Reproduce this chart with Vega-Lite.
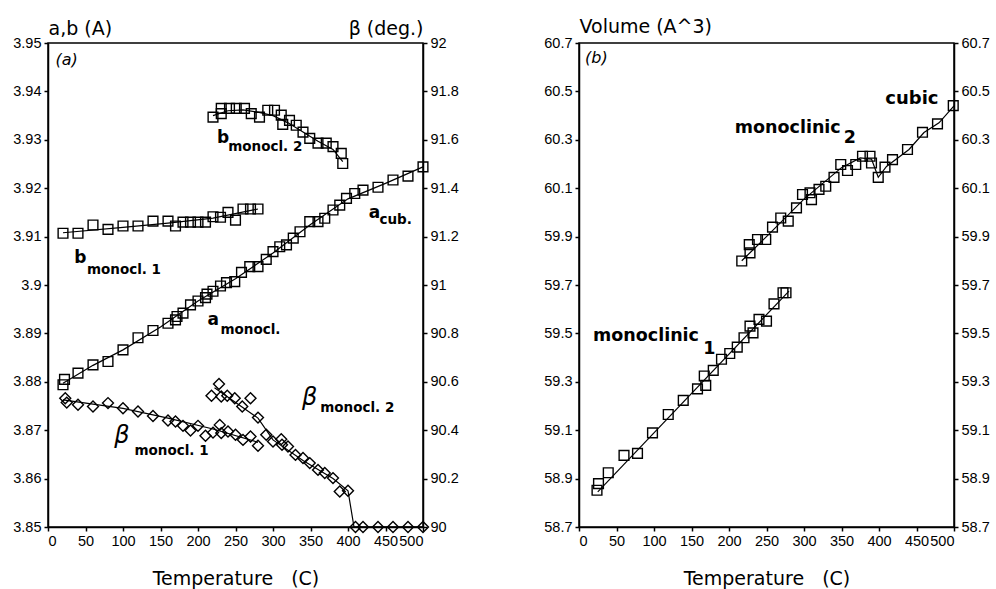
{
  "$schema": "https://vega.github.io/schema/vega-lite/v6.json",
  "background": "white",
  "padding": {"left": 12, "top": 16, "right": 5, "bottom": 5},
  "bounds": "flush",
  "spacing": 156,
  "config": {
    "font": "DejaVu Sans",
    "view": {"stroke": "black", "strokeWidth": 1.5},
    "axis": {
      "grid": false,
      "labelFont": "Liberation Sans",
      "labelFontSize": 14.5,
      "labelColor": "black",
      "tickColor": "black",
      "tickSize": 4,
      "tickWidth": 1.5,
      "labelPadding": 3,
      "domainColor": "black",
      "domainWidth": 1.5,
      "titleFont": "DejaVu Sans",
      "titleFontSize": 19,
      "titleFontWeight": "normal",
      "titleColor": "black"
    }
  },
  "datasets": {
    "sqA": [
      {"s": "b1", "T": 20, "v": 3.9107}, {"s": "b1", "T": 40, "v": 3.9107}, {"s": "b1", "T": 60, "v": 3.9124}, {"s": "b1", "T": 80, "v": 3.9115},
      {"s": "b1", "T": 100, "v": 3.9122}, {"s": "b1", "T": 120, "v": 3.9122}, {"s": "b1", "T": 140, "v": 3.9132}, {"s": "b1", "T": 160, "v": 3.9132},
      {"s": "b1", "T": 170, "v": 3.9122}, {"s": "b1", "T": 180, "v": 3.913}, {"s": "b1", "T": 190, "v": 3.913}, {"s": "b1", "T": 200, "v": 3.913},
      {"s": "b1", "T": 210, "v": 3.913}, {"s": "b1", "T": 220, "v": 3.9141}, {"s": "b1", "T": 230, "v": 3.914}, {"s": "b1", "T": 240, "v": 3.915},
      {"s": "b1", "T": 250, "v": 3.9134}, {"s": "b1", "T": 260, "v": 3.9157}, {"s": "b1", "T": 270, "v": 3.9157}, {"s": "b1", "T": 280, "v": 3.9157},
      {"s": "b2", "T": 220, "v": 3.9347}, {"s": "b2", "T": 231, "v": 3.9354}, {"s": "b2", "T": 231, "v": 3.9365}, {"s": "b2", "T": 242, "v": 3.9365},
      {"s": "b2", "T": 251, "v": 3.9365}, {"s": "b2", "T": 262, "v": 3.9365}, {"s": "b2", "T": 271, "v": 3.9354}, {"s": "b2", "T": 282, "v": 3.9347},
      {"s": "b2", "T": 293, "v": 3.9361}, {"s": "b2", "T": 302, "v": 3.9361}, {"s": "b2", "T": 311, "v": 3.9351}, {"s": "b2", "T": 313, "v": 3.9332},
      {"s": "b2", "T": 322, "v": 3.934}, {"s": "b2", "T": 331, "v": 3.933}, {"s": "b2", "T": 340, "v": 3.9316}, {"s": "b2", "T": 349, "v": 3.9303},
      {"s": "b2", "T": 360, "v": 3.9293}, {"s": "b2", "T": 371, "v": 3.9293}, {"s": "b2", "T": 380, "v": 3.9286}, {"s": "b2", "T": 391, "v": 3.9272},
      {"s": "b2", "T": 393, "v": 3.9251},
      {"s": "a", "T": 20, "v": 3.8794}, {"s": "a", "T": 22, "v": 3.8805}, {"s": "a", "T": 40, "v": 3.8818}, {"s": "a", "T": 60, "v": 3.8835},
      {"s": "a", "T": 80, "v": 3.8842}, {"s": "a", "T": 100, "v": 3.8866}, {"s": "a", "T": 120, "v": 3.8891}, {"s": "a", "T": 140, "v": 3.8906},
      {"s": "a", "T": 160, "v": 3.8921}, {"s": "a", "T": 170, "v": 3.8928}, {"s": "a", "T": 172, "v": 3.8935}, {"s": "a", "T": 180, "v": 3.8942},
      {"s": "a", "T": 190, "v": 3.8959}, {"s": "a", "T": 200, "v": 3.8967}, {"s": "a", "T": 210, "v": 3.8974}, {"s": "a", "T": 212, "v": 3.8981},
      {"s": "a", "T": 220, "v": 3.8987}, {"s": "a", "T": 230, "v": 3.8998}, {"s": "a", "T": 238, "v": 3.9005}, {"s": "a", "T": 249, "v": 3.9007},
      {"s": "a", "T": 258, "v": 3.9026}, {"s": "a", "T": 269, "v": 3.9038}, {"s": "a", "T": 280, "v": 3.9038}, {"s": "a", "T": 291, "v": 3.9053},
      {"s": "a", "T": 300, "v": 3.9069}, {"s": "a", "T": 309, "v": 3.9079}, {"s": "a", "T": 318, "v": 3.9083}, {"s": "a", "T": 327, "v": 3.9097},
      {"s": "a", "T": 336, "v": 3.911}, {"s": "a", "T": 349, "v": 3.9131}, {"s": "a", "T": 360, "v": 3.9131}, {"s": "a", "T": 369, "v": 3.9138},
      {"s": "a", "T": 380, "v": 3.9155}, {"s": "a", "T": 389, "v": 3.9165}, {"s": "a", "T": 398, "v": 3.9179}, {"s": "a", "T": 409, "v": 3.9189},
      {"s": "a", "T": 420, "v": 3.9196}, {"s": "a", "T": 440, "v": 3.9202}, {"s": "a", "T": 460, "v": 3.9217}, {"s": "a", "T": 480, "v": 3.9225},
      {"s": "a", "T": 500, "v": 3.9244}
    ],
    "linesA": [
      {"s": "a", "T": 20, "v": 3.8797}, {"s": "a", "T": 60, "v": 3.8834}, {"s": "a", "T": 100, "v": 3.8866}, {"s": "a", "T": 150, "v": 3.8913},
      {"s": "a", "T": 200, "v": 3.8967}, {"s": "a", "T": 250, "v": 3.9013}, {"s": "a", "T": 300, "v": 3.9066}, {"s": "a", "T": 350, "v": 3.9125},
      {"s": "a", "T": 400, "v": 3.9178}, {"s": "a", "T": 450, "v": 3.921}, {"s": "a", "T": 500, "v": 3.9244},
      {"s": "b1", "T": 20, "v": 3.9108}, {"s": "b1", "T": 100, "v": 3.9119}, {"s": "b1", "T": 160, "v": 3.9128}, {"s": "b1", "T": 220, "v": 3.9138}, {"s": "b1", "T": 280, "v": 3.9157},
      {"s": "b2", "T": 220, "v": 3.935}, {"s": "b2", "T": 240, "v": 3.936}, {"s": "b2", "T": 260, "v": 3.9362}, {"s": "b2", "T": 280, "v": 3.9357},
      {"s": "b2", "T": 300, "v": 3.935}, {"s": "b2", "T": 320, "v": 3.9335}, {"s": "b2", "T": 340, "v": 3.9316}, {"s": "b2", "T": 360, "v": 3.9297},
      {"s": "b2", "T": 380, "v": 3.928}, {"s": "b2", "T": 393, "v": 3.9255}
    ],
    "dia": [
      {"T": 23, "beta": 90.532}, {"T": 25, "beta": 90.514}, {"T": 40, "beta": 90.505}, {"T": 60, "beta": 90.498}, {"T": 80, "beta": 90.512},
      {"T": 100, "beta": 90.491}, {"T": 120, "beta": 90.477}, {"T": 140, "beta": 90.459}, {"T": 160, "beta": 90.44}, {"T": 170, "beta": 90.436},
      {"T": 180, "beta": 90.418}, {"T": 190, "beta": 90.399}, {"T": 200, "beta": 90.418}, {"T": 210, "beta": 90.377}, {"T": 220, "beta": 90.39},
      {"T": 229, "beta": 90.422}, {"T": 231, "beta": 90.388}, {"T": 240, "beta": 90.395}, {"T": 250, "beta": 90.381}, {"T": 260, "beta": 90.36},
      {"T": 270, "beta": 90.374}, {"T": 280, "beta": 90.336},
      {"T": 218, "beta": 90.542}, {"T": 228, "beta": 90.591}, {"T": 231, "beta": 90.539}, {"T": 239, "beta": 90.542}, {"T": 249, "beta": 90.532},
      {"T": 259, "beta": 90.498}, {"T": 270, "beta": 90.532}, {"T": 280, "beta": 90.452}, {"T": 291, "beta": 90.381}, {"T": 300, "beta": 90.353},
      {"T": 311, "beta": 90.363}, {"T": 312, "beta": 90.34}, {"T": 320, "beta": 90.333}, {"T": 330, "beta": 90.298}, {"T": 340, "beta": 90.285},
      {"T": 349, "beta": 90.264}, {"T": 360, "beta": 90.236}, {"T": 369, "beta": 90.223}, {"T": 380, "beta": 90.202}, {"T": 389, "beta": 90.147},
      {"T": 400, "beta": 90.15}, {"T": 410, "beta": 90}, {"T": 420, "beta": 90}, {"T": 440, "beta": 90}, {"T": 460, "beta": 90},
      {"T": 480, "beta": 90}, {"T": 500, "beta": 90}
    ],
    "linesB": [
      {"s": "b1", "T": 20, "beta": 90.525}, {"s": "b1", "T": 100, "beta": 90.49}, {"s": "b1", "T": 160, "beta": 90.45}, {"s": "b1", "T": 220, "beta": 90.405}, {"s": "b1", "T": 280, "beta": 90.35},
      {"s": "b2", "T": 222, "beta": 90.575}, {"s": "b2", "T": 280, "beta": 90.45}, {"s": "b2", "T": 300, "beta": 90.36}, {"s": "b2", "T": 340, "beta": 90.275},
      {"s": "b2", "T": 380, "beta": 90.2}, {"s": "b2", "T": 400, "beta": 90.15}, {"s": "b2", "T": 408, "beta": 90}, {"s": "b2", "T": 500, "beta": 90}
    ],
    "labA": [
      {"k": "panel", "T": 10, "v": 3.9465, "t": "(a)"},
      {"k": "main", "T": 233.6, "v": 3.9303, "t": "b"},
      {"k": "main", "T": 43, "v": 3.9055, "t": "b"},
      {"k": "main", "T": 435.2, "v": 3.9148, "t": "a"},
      {"k": "main", "T": 220.3, "v": 3.8928, "t": "a"},
      {"k": "sub", "T": 240.3, "v": 3.9286, "t": "monocl. 2"},
      {"k": "sub", "T": 51.9, "v": 3.9031, "t": "monocl. 1"},
      {"k": "sub", "T": 441.9, "v": 3.9134, "t": "cub."},
      {"k": "sub", "T": 230, "v": 3.8908, "t": "monocl."},
      {"k": "sub", "T": 115.3, "v": 3.8657, "t": "monocl. 1"},
      {"k": "sub", "T": 363, "v": 3.8746, "t": "monocl. 2"},
      {"k": "beta", "T": 98.4, "v": 3.8688, "t": "β"},
      {"k": "beta", "T": 348.8, "v": 3.8767, "t": "β"}
    ],
    "vol": [
      {"T": 24, "V": 58.852}, {"T": 26, "V": 58.879}, {"T": 39, "V": 58.924}, {"T": 60, "V": 58.996}, {"T": 78, "V": 59.004},
      {"T": 98, "V": 59.089}, {"T": 119, "V": 59.165}, {"T": 139, "V": 59.223}, {"T": 158, "V": 59.271}, {"T": 167, "V": 59.324},
      {"T": 169, "V": 59.285}, {"T": 179, "V": 59.347}, {"T": 190, "V": 59.393}, {"T": 201, "V": 59.417}, {"T": 211, "V": 59.443},
      {"T": 220, "V": 59.482}, {"T": 228, "V": 59.53}, {"T": 232, "V": 59.502}, {"T": 240, "V": 59.558}, {"T": 250, "V": 59.551},
      {"T": 260, "V": 59.622}, {"T": 272, "V": 59.668}, {"T": 276, "V": 59.668},
      {"T": 217, "V": 59.799}, {"T": 228, "V": 59.833}, {"T": 227, "V": 59.867}, {"T": 238, "V": 59.888}, {"T": 249, "V": 59.888},
      {"T": 258, "V": 59.939}, {"T": 269, "V": 59.977}, {"T": 279, "V": 59.964}, {"T": 290, "V": 60.019}, {"T": 298, "V": 60.074},
      {"T": 308, "V": 60.081}, {"T": 310, "V": 60.053}, {"T": 320, "V": 60.095}, {"T": 329, "V": 60.108}, {"T": 340, "V": 60.145},
      {"T": 349, "V": 60.198}, {"T": 358, "V": 60.173}, {"T": 369, "V": 60.198}, {"T": 378, "V": 60.232}, {"T": 388, "V": 60.232},
      {"T": 390, "V": 60.204}, {"T": 399, "V": 60.145}, {"T": 408, "V": 60.187}, {"T": 418, "V": 60.218}, {"T": 438, "V": 60.26},
      {"T": 458, "V": 60.331}, {"T": 478, "V": 60.366}, {"T": 499, "V": 60.441}
    ],
    "volLines": [
      {"s": "m1", "T": 25, "V": 58.845}, {"s": "m1", "T": 280, "V": 59.675},
      {"s": "m2", "T": 217, "V": 59.8}, {"s": "m2", "T": 250, "V": 59.9}, {"s": "m2", "T": 300, "V": 60.055}, {"s": "m2", "T": 350, "V": 60.185},
      {"s": "m2", "T": 375, "V": 60.225}, {"s": "m2", "T": 390, "V": 60.22}, {"s": "m2", "T": 399, "V": 60.145}, {"s": "m2", "T": 410, "V": 60.19},
      {"s": "m2", "T": 440, "V": 60.26}, {"s": "m2", "T": 460, "V": 60.33}, {"s": "m2", "T": 480, "V": 60.37}, {"s": "m2", "T": 500, "V": 60.44}
    ],
    "labB": [
      {"k": "panel", "T": 8, "V": 60.64, "t": "(b)"},
      {"k": "big", "T": 207.7, "V": 60.348, "t": "monoclinic"},
      {"k": "big", "T": 18.7, "V": 59.489, "t": "monoclinic"},
      {"k": "big", "T": 352.9, "V": 60.306, "t": "2"},
      {"k": "big", "T": 165.8, "V": 59.435, "t": "1"},
      {"k": "bigc", "T": 443.9, "V": 60.4675, "t": "cubic"}
    ]
  },
  "hconcat": [
    {
      "width": 375,
      "height": 484,
      "layer": [
        {
          "encoding": {
            "x": {"field": "T", "type": "quantitative", "scale": {"domain": [0, 500], "nice": false, "zero": false},
              "axis": {"values": [0, 50, 100, 150, 200, 250, 300, 350, 400, 450, 500], "title": "Temperature\u00a0\u00a0\u00a0(C)", "titleY": 51, "titleBaseline": "middle"}},
            "y": {"field": "v", "type": "quantitative", "scale": {"domain": [3.85, 3.95], "nice": false, "zero": false},
              "axis": {"orient": "left", "values": [3.85, 3.86, 3.87, 3.88, 3.89, 3.9, 3.91, 3.92, 3.93, 3.94, 3.95], "format": ".2~f",
                "title": "a,b (A)", "titleAngle": 0, "titleX": 0, "titleY": -15, "titleAlign": "left", "titleBaseline": "middle"}}
          },
          "layer": [
            {"data": {"name": "linesA"}, "mark": {"type": "line", "color": "black", "strokeWidth": 1.2}, "encoding": {"detail": {"field": "s"}}},
            {"data": {"name": "sqA"}, "mark": {"type": "point", "shape": "square", "filled": false, "color": "black", "size": 95, "strokeWidth": 1.4, "opacity": 1}},
            {"data": {"name": "labA"}, "transform": [{"filter": "datum.k == 'panel'"}],
              "mark": {"type": "text", "fontStyle": "italic", "fontSize": 16, "align": "left", "baseline": "middle", "color": "black"},
              "encoding": {"text": {"field": "t"}}},
            {"data": {"name": "labA"}, "transform": [{"filter": "datum.k == 'main'"}],
              "mark": {"type": "text", "fontWeight": "bold", "fontSize": 17, "align": "center", "baseline": "middle", "color": "black"},
              "encoding": {"text": {"field": "t"}}},
            {"data": {"name": "labA"}, "transform": [{"filter": "datum.k == 'sub'"}],
              "mark": {"type": "text", "fontWeight": "bold", "fontSize": 13.5, "align": "left", "baseline": "middle", "color": "black"},
              "encoding": {"text": {"field": "t"}}},
            {"data": {"name": "labA"}, "transform": [{"filter": "datum.k == 'beta'"}],
              "mark": {"type": "text", "fontStyle": "italic", "fontSize": 24, "align": "center", "baseline": "middle", "color": "black"},
              "encoding": {"text": {"field": "t"}}}
          ]
        },
        {
          "encoding": {
            "x": {"field": "T", "type": "quantitative", "scale": {"domain": [0, 500], "nice": false, "zero": false},
              "axis": {"values": [0, 50, 100, 150, 200, 250, 300, 350, 400, 450, 500], "title": "Temperature\u00a0\u00a0\u00a0(C)", "titleY": 51, "titleBaseline": "middle"}},
            "y": {"field": "beta", "type": "quantitative", "scale": {"domain": [90, 92], "nice": false, "zero": false},
              "axis": {"orient": "right", "values": [90, 90.2, 90.4, 90.6, 90.8, 91, 91.2, 91.4, 91.6, 91.8, 92], "format": ".1~f",
                "title": "β (deg.)", "titleAngle": 0, "titleX": 0, "titleY": -15, "titleAlign": "right", "titleBaseline": "middle"}}
          },
          "layer": [
            {"data": {"name": "linesB"}, "mark": {"type": "line", "color": "black", "strokeWidth": 1.2}, "encoding": {"detail": {"field": "s"}}},
            {"data": {"name": "dia"}, "mark": {"type": "point", "shape": "diamond", "filled": false, "color": "black", "size": 120, "strokeWidth": 1.4, "opacity": 1}}
          ]
        }
      ],
      "resolve": {"scale": {"y": "independent"}}
    },
    {
      "width": 375,
      "height": 484,
      "layer": [
        {
          "encoding": {
            "x": {"field": "T", "type": "quantitative", "scale": {"domain": [0, 500], "nice": false, "zero": false},
              "axis": {"values": [0, 50, 100, 150, 200, 250, 300, 350, 400, 450, 500], "title": "Temperature\u00a0\u00a0\u00a0(C)", "titleY": 51, "titleBaseline": "middle"}},
            "y": {"field": "V", "type": "quantitative", "scale": {"domain": [58.7, 60.7], "nice": false, "zero": false},
              "axis": {"orient": "left", "values": [58.7, 58.9, 59.1, 59.3, 59.5, 59.7, 59.9, 60.1, 60.3, 60.5, 60.7], "format": ".1f",
                "title": "Volume (A^3)", "titleAngle": 0, "titleX": 0, "titleY": -17, "titleAlign": "left", "titleBaseline": "middle"}}
          },
          "layer": [
            {"data": {"name": "vol"}, "mark": {"type": "point", "shape": "square", "filled": false, "color": "black", "size": 95, "strokeWidth": 1.4, "opacity": 1}},
            {"data": {"name": "labB"}, "transform": [{"filter": "datum.k == 'panel'"}],
              "mark": {"type": "text", "fontStyle": "italic", "fontSize": 16, "align": "left", "baseline": "middle", "color": "black"},
              "encoding": {"text": {"field": "t"}}},
            {"data": {"name": "labB"}, "transform": [{"filter": "datum.k == 'big'"}],
              "mark": {"type": "text", "fontWeight": "bold", "fontSize": 17.5, "align": "left", "baseline": "middle", "color": "black"},
              "encoding": {"text": {"field": "t"}}},
            {"data": {"name": "labB"}, "transform": [{"filter": "datum.k == 'bigc'"}],
              "mark": {"type": "text", "fontWeight": "bold", "fontSize": 18, "align": "center", "baseline": "middle", "color": "black"},
              "encoding": {"text": {"field": "t"}}}
          ]
        },
        {
          "encoding": {
            "x": {"field": "T", "type": "quantitative", "scale": {"domain": [0, 500], "nice": false, "zero": false},
              "axis": {"values": [0, 50, 100, 150, 200, 250, 300, 350, 400, 450, 500], "title": "Temperature\u00a0\u00a0\u00a0(C)", "titleY": 51, "titleBaseline": "middle"}},
            "y": {"field": "V", "type": "quantitative", "scale": {"domain": [58.7, 60.7], "nice": false, "zero": false},
              "axis": {"orient": "right", "values": [58.7, 58.9, 59.1, 59.3, 59.5, 59.7, 59.9, 60.1, 60.3, 60.5, 60.7], "format": ".1f", "title": null}}
          },
          "layer": [
            {"data": {"name": "volLines"}, "mark": {"type": "line", "color": "black", "strokeWidth": 1.2}, "encoding": {"detail": {"field": "s"}}}
          ]
        }
      ],
      "resolve": {"scale": {"y": "independent"}}
    }
  ]
}
